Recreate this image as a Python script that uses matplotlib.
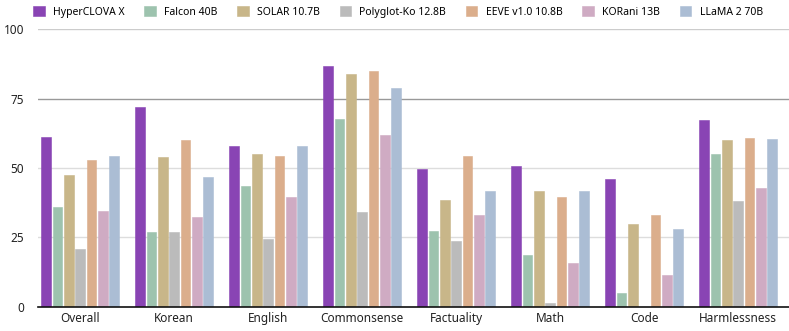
import matplotlib
matplotlib.use("Agg")
import matplotlib.pyplot as plt
import numpy as np

categories = ["Overall", "Korean", "English", "Commonsense", "Factuality", "Math", "Code", "Harmlessness"]
models = ["HyperCLOVA X", "Falcon 40B", "SOLAR 10.7B", "Polyglot-Ko 12.8B",
          "EEVE v1.0 10.8B", "KORani 13B", "LLaMA 2 70B"]
colors = ["#8944B4", "#9DC3AE", "#C8B689", "#BBBBBB", "#DBAE8C", "#CFABC3", "#ABBDD4"]

hyperclova = [61.0, 71.8, 57.8, 86.8, 49.7, 50.7, 45.9, 67.3]
falcon = [36.0, 27.0, 43.5, 67.5, 27.4, 18.5, 5.0, 55.2]
solar = [47.6, 54.1, 55.0, 83.9, 38.6, 41.6, 29.8, 59.9]
polyglot = [20.8, 27.0, 24.4, 34.1, 23.8, 1.3, 0.0, 38.1]
eeve = [52.7, 59.9, 54.2, 84.9, 54.4, 39.7, 33.1, 60.8]
korani = [34.6, 32.4, 39.6, 62.0, 32.9, 15.8, 11.4, 42.7]
llama = [54.2, 46.6, 57.8, 78.7, 41.7, 41.6, 28.1, 60.3]

series = [hyperclova, falcon, solar, polyglot, eeve, korani, llama]

plt.rcParams["font.family"] = ["Noto Sans", "DejaVu Sans"]

fig = plt.figure(figsize=(7.89, 3.31), dpi=100)
ax = fig.add_axes([0.048, 0.073, 0.952, 0.839])

x = np.arange(len(categories))
pitch = 0.121
width = 0.104
for i, (name, vals, c) in enumerate(zip(models, series, colors)):
    ax.bar(x + (i - 3) * pitch, vals, width, color=c, label=name,
           edgecolor=c, linewidth=0.4, zorder=3)

ax.set_ylim(0, 100)
ax.set_xlim(-0.45, 7.54)
ax.set_yticks([0, 25, 50, 75, 100])
ax.set_xticks(x)
ax.set_xticklabels(categories, fontsize=8.5, color="#222222")
ax.tick_params(axis="both", length=0, labelsize=8.5, colors="#222222")
ax.tick_params(axis="y", pad=10)

for v, c in [(25, "#DDDDDD"), (50, "#DDDDDD"), (75, "#999999"), (100, "#CCCCCC")]:
    ax.axhline(v, color=c, linewidth=1.0, zorder=1)

for s in ["top", "right", "left"]:
    ax.spines[s].set_visible(False)
ax.spines["bottom"].set_color("#111111")
ax.spines["bottom"].set_linewidth(1.2)
ax.spines["bottom"].set_zorder(4)

fig.legend(loc="upper left", bbox_to_anchor=(0.03, 1.01), ncol=7, frameon=False,
           fontsize=7.5, handlelength=1.1, handleheight=1.1, handletextpad=0.8,
           columnspacing=1.9)

fig.savefig("out.png", dpi=100)
